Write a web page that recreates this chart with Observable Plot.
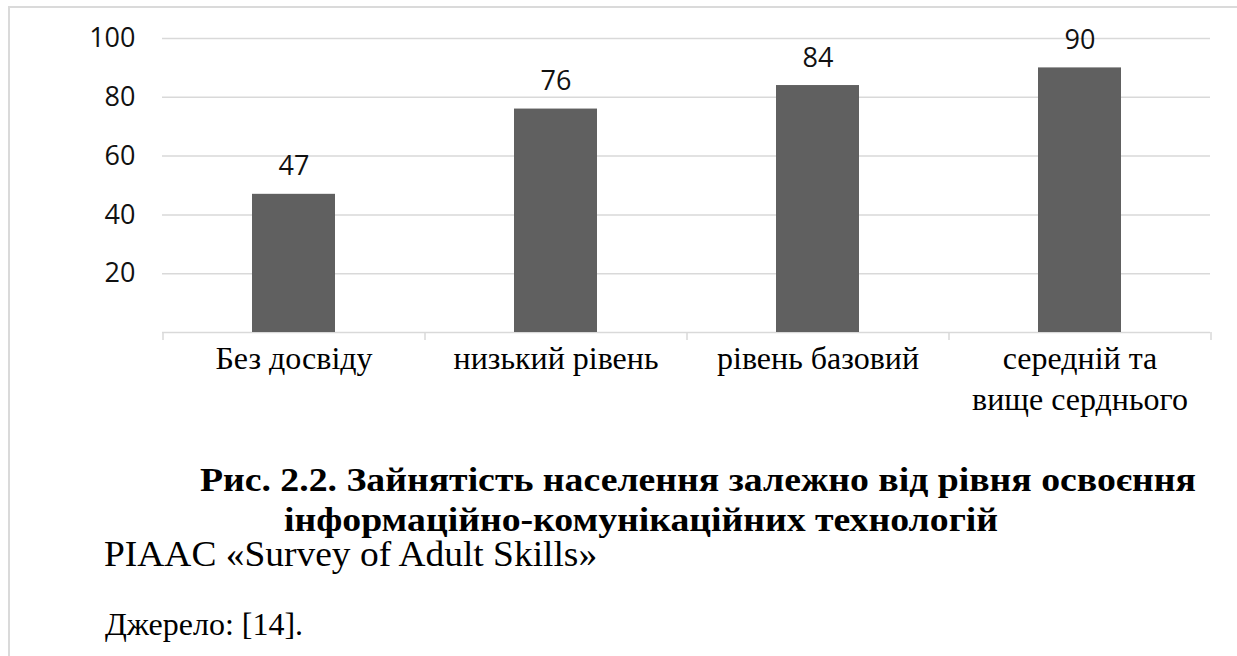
<!DOCTYPE html>
<html lang="uk">
<head>
<meta charset="utf-8">
<script src="https://cdn.jsdelivr.net/npm/d3@7"></script>
<script src="https://cdn.jsdelivr.net/npm/@observablehq/plot@0.6"></script>
<style>
  html, body { margin: 0; padding: 0; background: #fff; }
  body { width: 1237px; height: 656px; position: relative; overflow: hidden; }
  #frame {
    position: absolute; left: 8px; top: 6px; right: -4px; bottom: -4px;
    border-left: 2px solid #dadada; border-top: 2px solid #dadada;
    pointer-events: none;
  }
  #chart { position: absolute; left: 0; top: 0; }
  .serif { font-family: "Liberation Serif", "Times New Roman", serif; color: #000; position: absolute; white-space: nowrap; }
  .title-line { width: 1200px; text-align: center; font-size: 34px; font-weight: bold; line-height: 32px;
                transform: scaleX(1.11); transform-origin: 50% 50%; }
  #title1 { left: 98px; top: 464px; }
  #title2 { left: 41px; top: 504px; }
  #survey { left: 104px; top: 541px; font-size: 35px; line-height: 28px; transform: scaleX(1.07); transform-origin: 0 50%; }
  #source { left: 105px; top: 608px; font-size: 32px; line-height: 32px; }
</style>
</head>
<body>
<div id="chart"></div>
<div id="frame"></div>
<div id="title1" class="serif title-line"></div>
<div id="title2" class="serif title-line"></div>
<div id="survey" class="serif"></div>
<div id="source" class="serif"></div>
<script>
// Categories: level of ICT skills
const categories = ["Без досвіду", "низький рівень", "рівень базовий", "середній та вище серднього"];
// Employment rate, %
const values = [47, 76, 84, 90];
// Value-axis tick labels
const yTicks = [20, 40, 60, 80, 100];
// Caption text
const titleLines = ["Рис. 2.2. Зайнятість населення залежно від рівня освоєння", "інформаційно-комунікаційних технологій"];
const surveyText = "PIAAC «Survey of Adult Skills»";
const sourceText = "Джерело: [14].";

const data = categories.map((c, i) => ({category: c, value: values[i]}));

const W = 1237, H = 430;
const mL = 162, mR = 27, mT = 38, mB = H - 332;
const step = (W - mL - mR) / categories.length;
const grid = "#d9d9d9";
const barColor = "#606060";

const chart = Plot.plot({
  width: W,
  height: H,
  marginLeft: mL,
  marginRight: mR,
  marginTop: mT,
  marginBottom: mB,
  style: {background: "transparent", fontFamily: "'Open Sans', sans-serif", fontSize: "27px", color: "#111"},
  x: {type: "band", domain: categories, paddingInner: 0.685, paddingOuter: 0.3425, axis: null},
  y: {domain: [0, 100], axis: null},
  marks: [
    Plot.ruleY(yTicks, {stroke: grid, strokeWidth: 1.5}),
    Plot.ruleY([0], {stroke: grid, strokeWidth: 1.5}),
    // category boundary ticks below the baseline
    Plot.ruleX(categories, {x: d => d, dx: -step / 2, y1: 0, y2: 0, insetBottom: -8, stroke: grid, strokeWidth: 1.5}),
    Plot.ruleX(categories.slice(-1), {x: d => d, dx: step / 2, y1: 0, y2: 0, insetBottom: -8, stroke: grid, strokeWidth: 1.5}),
    Plot.barY(data, {x: "category", y: "value", fill: barColor}),
    Plot.text(data, {x: "category", y: "value", text: d => String(d.value), lineAnchor: "bottom", dy: -19, fill: "#111", fontSize: 27}),
    Plot.axisY({ticks: yTicks, label: null, tickSize: 0, tickPadding: 27, tickFormat: d => String(d), fontSize: 27, fill: "#111"}),
    Plot.text(categories, {
      x: d => d,
      text: d => d.replace(" та ", " та\n"),
      frameAnchor: "bottom",
      lineAnchor: "top",
      dy: 7,
      lineHeight: 1.28,
      fontFamily: "'Liberation Serif', 'Times New Roman', serif",
      fontSize: 32,
      fill: "#000"
    })
  ]
});
document.getElementById("chart").appendChild(chart);

document.getElementById("title1").textContent = titleLines[0];
document.getElementById("title2").textContent = titleLines[1];
document.getElementById("survey").textContent = surveyText;
document.getElementById("source").textContent = sourceText;
</script>
</body>
</html>
